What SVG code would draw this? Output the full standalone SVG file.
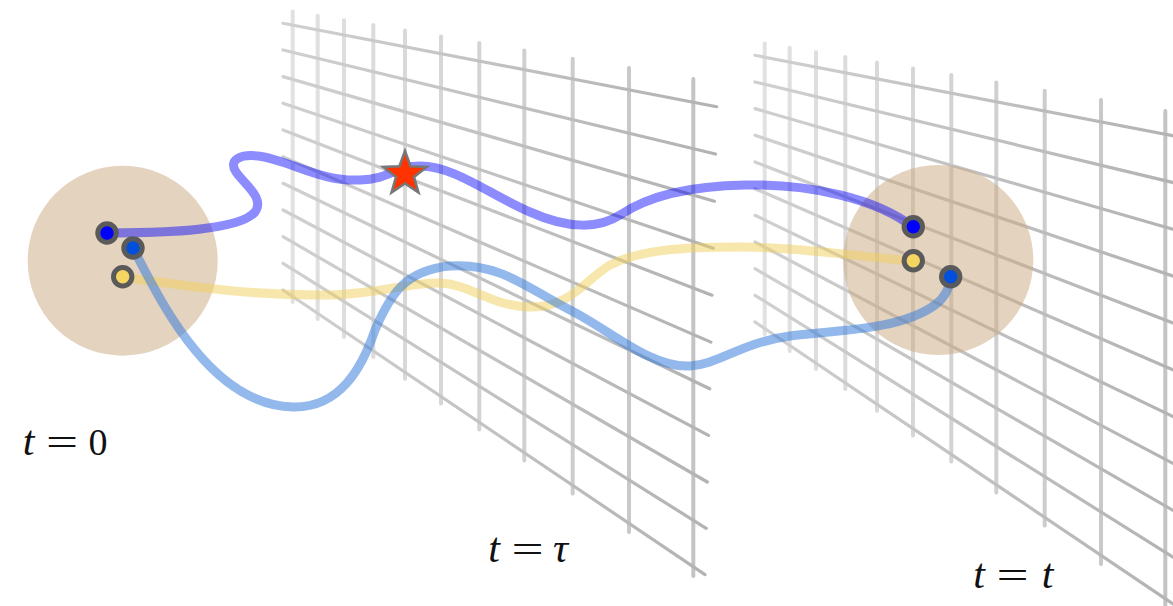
<svg xmlns="http://www.w3.org/2000/svg" width="1173" height="606" viewBox="0 0 1173 606">
  <defs>
    <linearGradient id="vgrad" gradientUnits="userSpaceOnUse" x1="283" y1="0" x2="717" y2="0">
      <stop offset="0" stop-color="#e2e2e2"/>
      <stop offset="1" stop-color="#c2c2c2"/>
    </linearGradient>
    <linearGradient id="hgrad" gradientUnits="userSpaceOnUse" x1="283" y1="0" x2="717" y2="0">
      <stop offset="0" stop-color="#d0d0d0"/>
      <stop offset="1" stop-color="#b2b2b2"/>
    </linearGradient>
    <filter id="soft" x="-5%" y="-5%" width="110%" height="110%">
      <feGaussianBlur stdDeviation="0.6"/>
    </filter>
    <style>
      .vl { stroke: url(#vgrad); stroke-width: 4; stroke-linecap: round; fill: none; }
      .hl { stroke: url(#hgrad); stroke-width: 3.2; stroke-linecap: round; fill: none; }
      .region { fill: #c9a77e; fill-opacity: 0.5; }
      .traj { fill: none; stroke-width: 9; stroke-linecap: round; stroke-linejoin: round; }
      .dot { stroke: #5a5a5a; stroke-width: 5; }
      .lbl { font-family: "Liberation Serif", "Times New Roman", serif; font-size: 38px; fill: #111; text-anchor: middle; }
      .it { font-style: italic; font-size: 42px; }
    </style>
  </defs>

  <rect width="1173" height="606" fill="#ffffff"/>

  <g id="plane-tau" filter="url(#soft)">
    <g class="vl">
      <line x1="292.7" y1="11.6" x2="292.7" y2="301.9"/>
      <line x1="317.7" y1="15.8" x2="317.7" y2="319.1"/>
      <line x1="344" y1="20.2" x2="344" y2="337.1"/>
      <line x1="373.3" y1="25.1" x2="373.3" y2="357.1"/>
      <line x1="405" y1="30.5" x2="405" y2="378.8"/>
      <line x1="441" y1="36.5" x2="441" y2="403.5"/>
      <line x1="479.3" y1="43" x2="479.3" y2="429.6"/>
      <line x1="524.3" y1="50.5" x2="524.3" y2="460.5"/>
      <line x1="572.7" y1="58.7" x2="572.7" y2="493.5"/>
      <line x1="629" y1="68.1" x2="629" y2="532.1"/>
      <line x1="693.3" y1="78.9" x2="693.3" y2="576"/>
    </g>
    <g class="hl">
      <line x1="283" y1="23.3" x2="716.7" y2="106.7"/>
      <line x1="283" y1="50" x2="715.5" y2="154"/>
      <line x1="283" y1="76.6" x2="714.4" y2="201.2"/>
      <line x1="283" y1="103.3" x2="713.2" y2="248.2"/>
      <line x1="283" y1="130" x2="712" y2="295.2"/>
      <line x1="283" y1="156.7" x2="710.9" y2="342.1"/>
      <line x1="283" y1="183.3" x2="709.7" y2="388.8"/>
      <line x1="283" y1="210" x2="708.5" y2="435.4"/>
      <line x1="283" y1="236.7" x2="707.3" y2="482"/>
      <line x1="283" y1="263.3" x2="706.2" y2="528.3"/>
      <line x1="283" y1="290" x2="705" y2="574.6"/>
    </g>
  </g>

  <g id="plane-t">
    <use href="#plane-tau" transform="translate(472,32)"/>
  </g>

  <g id="region-0">
    <circle class="region" cx="122.7" cy="260.7" r="95"/>
  </g>
  <g id="region-t">
    <circle class="region" cx="938.3" cy="260" r="95"/>
  </g>

  <g id="connectors">
    <path class="traj" stroke="#f2cf5a" stroke-opacity="0.5" d="M122,277 C200,288 260,296 330,295 C380,294 410,282 440,283 C470,284 490,306 530,307 C570,308 585,280 610,265 C640,250 680,247 740,247 C800,247 860,257 913,261"/>
    <path class="traj" stroke="#0000ff" stroke-opacity="0.45" d="M107,233 C170,233 240,230 255,212 C265,198 245,185 236,172 C228,160 240,154 258,156 C290,160 320,182 360,180 C390,179 395,166 420,166 C455,166 490,195 530,212 C570,230 600,228 620,215 C650,195 690,186 745,185 C810,184 875,198 913,227"/>
    <path class="traj" stroke="#3b7ddd" stroke-opacity="0.55" d="M133,248 C160,300 210,405 293,407 C340,408 362,368 375,330 C390,295 405,270 450,266 C500,262 530,290 570,310 C610,330 650,368 690,366 C720,364 740,343 790,336 C840,330 900,330 935,305 C948,295 950,285 950,277"/>
  </g>

  <g id="event-star">
    <polygon points="405,151 410.6,166.3 426.9,166.9 414,176.9 418.5,192.6 405,183.5 391.5,192.6 396,176.9 383.1,166.9 399.4,166.3" fill="#ff3300" stroke="#777777" stroke-width="2.5" stroke-linejoin="miter"/>
  </g>

  <g id="start-dots">
    <circle class="dot" cx="107" cy="233" r="9.2" fill="#0000ff"/>
    <circle class="dot" cx="133" cy="248" r="9.2" fill="#0050dc"/>
    <circle class="dot" cx="122.7" cy="276.7" r="9.2" fill="#f5d562"/>
  </g>
  <g id="end-dots">
    <circle class="dot" cx="913.3" cy="226.7" r="9.2" fill="#0000ff"/>
    <circle class="dot" cx="913.3" cy="260.7" r="9.2" fill="#f5d562"/>
    <circle class="dot" cx="950.7" cy="276.7" r="9.2" fill="#0050dc"/>
  </g>

  <g id="label-0">
    <text class="lbl it" x="28.5" y="455">t</text>
    <text class="lbl" transform="translate(62,455) scale(1.5,1)" x="0" y="0">=</text>
    <text class="lbl" x="98" y="455">0</text>
  </g>
  <g id="label-tau">
    <text class="lbl it" x="494" y="562">t</text>
    <text class="lbl" transform="translate(527.5,562) scale(1.5,1)" x="0" y="0">=</text>
    <text class="lbl it" x="560.5" y="562">τ</text>
  </g>
  <g id="label-t">
    <text class="lbl it" x="979" y="588">t</text>
    <text class="lbl" transform="translate(1012.5,588) scale(1.5,1)" x="0" y="0">=</text>
    <text class="lbl it" x="1047.5" y="588">t</text>
  </g>
</svg>
